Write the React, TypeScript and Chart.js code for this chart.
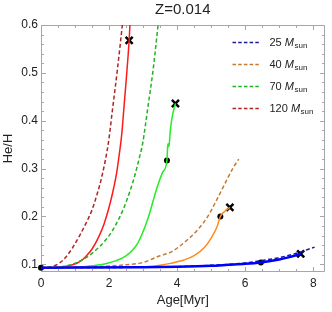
import React, { useEffect, useRef } from "react";
import { Chart, registerables } from "chart.js";

Chart.register(...registerables);

// ---- data (He/H vs age in Myr) ----
const m120DashAge = [0, 0.3, 0.55, 0.74, 0.93, 1.12, 1.31, 1.5, 1.65, 1.79, 1.98, 2.1, 2.25, 2.39, 2.42];
const m120DashHe = [0.093, 0.095, 0.103, 0.116, 0.135, 0.158, 0.184, 0.214, 0.247, 0.284, 0.354, 0.423, 0.51, 0.6, 0.62];

const m120Age = [0, 0.5, 0.93, 1.15, 1.31, 1.5, 1.7, 1.85, 1.98, 2.1, 2.22, 2.3, 2.37, 2.44, 2.52, 2.59, 2.62, 2.64];
const m120He = [0.093, 0.094, 0.099, 0.106, 0.116, 0.132, 0.158, 0.184, 0.214, 0.248, 0.29, 0.33, 0.37, 0.43, 0.5, 0.568, 0.61, 0.63];

const m70DashAge = [0, 0.6, 1.03, 1.5, 1.98, 2.2, 2.41, 2.6, 2.75, 2.88, 2.99, 3.13, 3.3, 3.44, 3.47];
const m70DashHe = [0.093, 0.095, 0.103, 0.123, 0.158, 0.183, 0.214, 0.25, 0.284, 0.32, 0.354, 0.423, 0.51, 0.6, 0.62];

const m70Age = [0, 1.0, 1.5, 1.98, 2.46, 2.84, 3.13, 3.4, 3.58, 3.7, 3.72, 3.735, 3.75, 3.77, 3.8, 3.86, 3.95];
const m70He = [0.093, 0.094, 0.097, 0.103, 0.116, 0.144, 0.193, 0.258, 0.293, 0.317, 0.345, 0.352, 0.346, 0.352, 0.38, 0.41, 0.436];

const m40DashAge = [0, 1.5, 2.5, 3.0, 3.5, 3.8, 4.2, 4.6, 4.9, 5.2, 5.45, 5.65, 5.81];
const m40DashHe = [0.093, 0.095, 0.099, 0.104, 0.118, 0.125, 0.145, 0.172, 0.2, 0.24, 0.275, 0.302, 0.32];

const m40Age = [0, 2.5, 3.13, 3.5, 3.8, 4.2, 4.5, 4.8, 5.0, 5.17, 5.27, 5.4, 5.55];
const m40He = [0.093, 0.094, 0.095, 0.098, 0.102, 0.109, 0.118, 0.135, 0.155, 0.178, 0.2, 0.211, 0.219];

const m25DashAge = [0, 3, 4, 5, 5.5, 6, 6.5, 7, 7.5, 8.04];
const m25DashHe = [0.093, 0.094, 0.095, 0.098, 0.1, 0.103, 0.108, 0.114, 0.123, 0.136];

const m25Age = [0, 3, 4, 5, 5.5, 6, 6.46, 7, 7.3, 7.63];
const m25He = [0.093, 0.094, 0.095, 0.097, 0.099, 0.101, 0.104, 0.11, 0.115, 0.122];

const dotAge = [0, 3.7, 5.27, 6.46];
const dotHe = [0.093, 0.317, 0.2, 0.104];
const crossAge = [2.59, 3.95, 5.55, 7.63];
const crossHe = [0.568, 0.436, 0.219, 0.122];

const legendMasses = ["25", "40", "70", "120"];
const legendColors = ["#1a1a9c", "#c27a35", "#1fb41f", "#b02424"];

const xTicks = [0, 2, 4, 6, 8];
const yTicks = [0.1, 0.2, 0.3, 0.4, 0.5, 0.6];
const X_MIN = 0;
const X_MAX = 8.33;
const Y_MIN = 0.084;
const Y_MAX = 0.6;

const titleText = "Z=0.014";
const xTitle = "Age[Myr]";
const yTitle = "He/H";

const FONT = "'Liberation Sans', Arial, sans-serif";
const FRAME = "#a6a6a6";
const TEXT = "#222222";

const zip = (xs: number[], ys: number[]) => xs.map((x, i) => ({ x, y: ys[i] }));

const framePlugin = {
  id: "frameTicks",
  beforeDatasetsDraw(chart: any) {
    const { ctx, chartArea: a, scales } = chart;
    const xs = scales.x;
    const ys = scales.y;
    ctx.save();
    ctx.strokeStyle = FRAME;
    ctx.lineWidth = 1;
    const L = Math.round(a.left) + 0.5;
    const R = Math.round(a.right) - 0.5;
    const T = Math.round(a.top) + 0.5;
    const B = Math.round(a.bottom) - 0.5;
    ctx.beginPath();
    ctx.rect(L, T, R - L, B - T);
    ctx.stroke();
    ctx.beginPath();
    for (let v = X_MIN; v <= X_MAX + 1e-9; v += 0.5) {
      const major = Math.abs(v - Math.round(v / 2) * 2) < 1e-6;
      const len = major ? 4.5 : 2.5;
      const px = Math.round(xs.getPixelForValue(v)) + 0.5;
      ctx.moveTo(px, B);
      ctx.lineTo(px, B - len);
      ctx.moveTo(px, T);
      ctx.lineTo(px, T + len);
    }
    for (let k = 0; k <= 30; k++) {
      const v = 0.08 + k * 0.02;
      if (v < Y_MIN - 1e-9 || v > Y_MAX + 1e-9) continue;
      const major = Math.abs(v * 10 - Math.round(v * 10)) < 1e-6;
      const len = major ? 4.5 : 2.5;
      const py = Math.round(ys.getPixelForValue(v)) + 0.5;
      ctx.moveTo(L, py);
      ctx.lineTo(L + len, py);
      ctx.moveTo(R, py);
      ctx.lineTo(R - len, py);
    }
    ctx.stroke();
    ctx.restore();
  },
  afterDraw(chart: any) {
    const { ctx, chartArea: a } = chart;
    ctx.save();
    ctx.fillStyle = TEXT;
    // title
    ctx.font = `15px ${FONT}`;
    ctx.textAlign = "center";
    ctx.textBaseline = "middle";
    ctx.fillText(titleText, (a.left + a.right) / 2, 10);
    // x title
    ctx.font = `13px ${FONT}`;
    ctx.fillText(xTitle, (a.left + a.right) / 2, 300);
    // y title
    ctx.save();
    ctx.translate(8, (a.top + a.bottom) / 2);
    ctx.rotate(-Math.PI / 2);
    ctx.fillText(yTitle, 0, 0);
    ctx.restore();
    // legend
    const x0 = a.right - 92;
    const lineLen = 28;
    const tx = x0 + 37;
    for (let i = 0; i < legendMasses.length; i++) {
      const y = a.top + 17.5 + i * 22;
      ctx.strokeStyle = legendColors[i];
      ctx.lineWidth = 1.3;
      ctx.setLineDash([3.5, 2.2]);
      ctx.beginPath();
      ctx.moveTo(x0, y);
      ctx.lineTo(x0 + lineLen, y);
      ctx.stroke();
      ctx.setLineDash([]);
      ctx.textAlign = "left";
      ctx.textBaseline = "middle";
      ctx.fillStyle = TEXT;
      ctx.font = `11px ${FONT}`;
      const lead = legendMasses[i] + " ";
      ctx.fillText(lead, tx, y);
      let cx = tx + ctx.measureText(lead).width;
      ctx.font = `italic 11px ${FONT}`;
      ctx.fillText("M", cx, y);
      cx += ctx.measureText("M").width + 0.5;
      ctx.font = `8px ${FONT}`;
      ctx.fillText("sun", cx, y + 3.5);
    }
    ctx.restore();
  },
};

export default function App() {
  const ref = useRef<HTMLCanvasElement | null>(null);
  useEffect(() => {
    if (!ref.current) return;
    const line = (xs: number[], ys: number[], color: string, dashed: boolean, width = 1.5) => ({
      data: zip(xs, ys),
      borderColor: color,
      backgroundColor: color,
      borderWidth: width,
      borderDash: dashed ? [4, 2.5] : [],
      pointRadius: 0,
      fill: false,
      cubicInterpolationMode: "monotone" as const,
    });
    const chart = new Chart(ref.current, {
      type: "line",
      data: {
        datasets: [
          line(m25Age, m25He, "#0000ff", false, 2.5),
          line(m25DashAge, m25DashHe, "#1a1a9c", true),
          line(m40Age, m40He, "#ff8c1a", false),
          line(m40DashAge, m40DashHe, "#c27a35", true),
          line(m70Age, m70He, "#22ee22", false),
          line(m70DashAge, m70DashHe, "#1fb41f", true),
          line(m120Age, m120He, "#ff1a1a", false),
          line(m120DashAge, m120DashHe, "#b02424", true),
          {
            data: zip(dotAge, dotHe),
            showLine: false,
            pointRadius: 3,
            pointStyle: "circle",
            pointBackgroundColor: "#000",
            pointBorderColor: "#000",
            borderWidth: 0,
            clip: false as any,
          },
          {
            data: zip(crossAge, crossHe),
            showLine: false,
            pointRadius: 5,
            pointStyle: "crossRot",
            pointBorderColor: "#000",
            pointBorderWidth: 2.5,
            clip: false as any,
          },
        ] as any,
      },
      options: {
        animation: false,
        responsive: false,
        devicePixelRatio: 1,
        layout: { padding: { top: 25, right: 1, left: 0, bottom: 0 } },
        plugins: { legend: { display: false }, tooltip: { enabled: false }, title: { display: false } },
        scales: {
          x: {
            type: "linear",
            min: X_MIN,
            max: X_MAX,
            afterBuildTicks: (s: any) => {
              s.ticks = xTicks.map((v) => ({ value: v }));
            },
            afterFit: (s: any) => {
              s.height = 40;
            },
            grid: { display: false, drawTicks: false },
            border: { display: false },
            ticks: {
              autoSkip: false,
              maxRotation: 0,
              padding: 4,
              color: TEXT,
              font: { size: 12, family: FONT },
              callback: (v: any) => String(v),
            },
          },
          y: {
            type: "linear",
            min: Y_MIN,
            max: Y_MAX,
            afterBuildTicks: (s: any) => {
              s.ticks = yTicks.map((v) => ({ value: v }));
            },
            afterFit: (s: any) => {
              s.width = 41;
            },
            grid: { display: false, drawTicks: false },
            border: { display: false },
            ticks: {
              autoSkip: false,
              padding: 3,
              color: TEXT,
              font: { size: 12, family: FONT },
              callback: (v: any) => Number(v).toFixed(1),
            },
          },
        },
      },
      plugins: [framePlugin],
    });
    return () => chart.destroy();
  }, []);
  return (
    <div style={{ position: "fixed", left: 0, top: 0, width: 332, height: 312, background: "#fff" }}>
      <canvas ref={ref} width={332} height={312} />
    </div>
  );
}
